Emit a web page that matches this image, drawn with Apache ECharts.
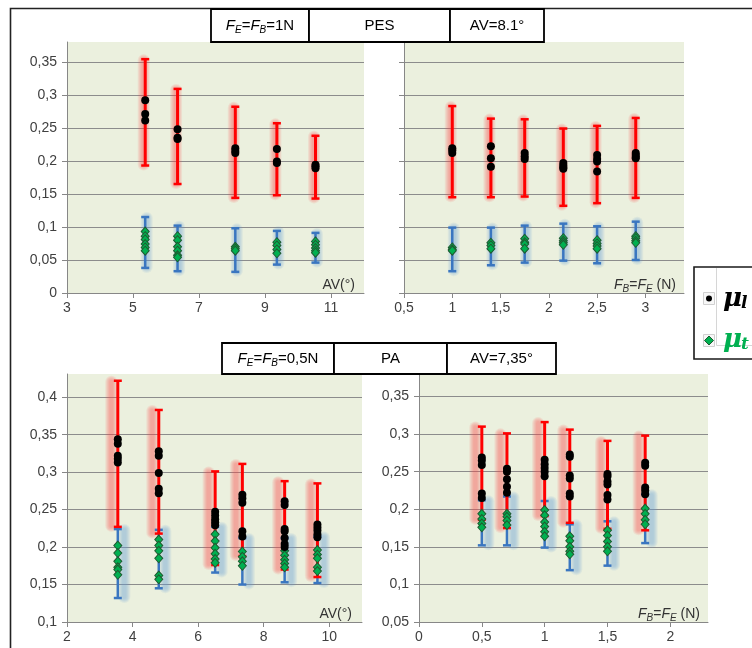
<!DOCTYPE html>
<html><head><meta charset="utf-8">
<script src="https://cdn.jsdelivr.net/npm/echarts/dist/echarts.min.js"></script>
<style>html,body{margin:0;padding:0;background:#fff}#c{width:752px;height:648px}</style>
</head><body><div id="c"></div>
<script>
// ---- Panel 1: PES, FE=FB=1N, x = AV (°)
const pesAV = [5.37, 6.35, 8.1, 9.36, 10.53];
const pesAV_muL = [[0.292,0.271,0.261],[0.248,0.235,0.233],[0.219,0.215,0.212],[0.218,0.199,0.197],[0.194,0.192,0.189]];
const pesAV_muLErr = [[0.193,0.354],[0.165,0.309],[0.144,0.282],[0.148,0.257],[0.143,0.238]];
const pesAV_muT = [[0.093,0.086,0.081,0.074,0.069,0.064],[0.086,0.080,0.070,0.064,0.057,0.054],[0.070,0.067,0.064],[0.077,0.072,0.066,0.060],[0.078,0.073,0.068,0.064,0.061]];
const pesAV_muTErr = [[0.038,0.115],[0.033,0.102],[0.032,0.098],[0.043,0.094],[0.046,0.091]];
// ---- Panel 2: PES, AV=8.1°, x = FB=FE (N)
const pesF = [1.0, 1.4, 1.75, 2.15, 2.5, 2.9];
const pesF_muL = [[0.219,0.216,0.212],[0.222,0.204,0.191],[0.212,0.207,0.203],[0.197,0.193,0.190,0.188],[0.209,0.203,0.199,0.184],[0.212,0.209,0.206,0.204]];
const pesF_muLErr = [[0.145,0.283],[0.145,0.264],[0.146,0.263],[0.132,0.249],[0.136,0.253],[0.144,0.265]];
const pesF_muT = [[0.069,0.066,0.064],[0.076,0.072,0.067],[0.082,0.077,0.074,0.067],[0.083,0.079,0.076,0.073],[0.080,0.075,0.071,0.067],[0.086,0.083,0.079,0.076]];
const pesF_muTErr = [[0.033,0.099],[0.042,0.099],[0.046,0.102],[0.049,0.105],[0.045,0.101],[0.050,0.108]];
// ---- Panel 3: PA, FE=FB=0,5N, x = AV (°)
const paAV = [3.55, 4.8, 6.52, 7.35, 8.64, 9.64];
const paAV_muL = [[0.344,0.338,0.322,0.318,0.313],[0.328,0.322,0.299,0.278,0.272],[0.247,0.242,0.237,0.233,0.229],[0.270,0.265,0.259,0.221,0.214],[0.261,0.256,0.224,0.221,0.212,0.204,0.200],[0.230,0.226,0.222,0.217,0.213]];
const paAV_muLErr = [[0.227,0.422],[0.218,0.383],[0.176,0.301],[0.188,0.311],[0.170,0.288],[0.160,0.285]];
const paAV_muT = [[0.202,0.192,0.181,0.173,0.170,0.163],[0.210,0.202,0.195,0.185,0.162,0.157],[0.217,0.208,0.199,0.191,0.184,0.179],[0.194,0.187,0.181,0.175],[0.195,0.189,0.183,0.178,0.173],[0.196,0.190,0.185,0.173,0.168]];
const paAV_muTErr = [[0.132,0.224],[0.145,0.223],[0.166,0.227],[0.150,0.212],[0.153,0.212],[0.152,0.214]];
// ---- Panel 4: PA, AV=7,35°, x = FB=FE (N)
const paF = [0.5, 0.7, 1.0, 1.2, 1.5, 1.8];
const paF_muL = [[0.269,0.265,0.259,0.221,0.215],[0.254,0.250,0.240,0.230,0.222],[0.266,0.260,0.255,0.250,0.244],[0.273,0.270,0.245,0.241,0.221,0.217],[0.247,0.244,0.237,0.233,0.219,0.213],[0.262,0.258,0.229,0.225,0.220]];
const paF_muLErr = [[0.186,0.310],[0.175,0.301],[0.191,0.316],[0.182,0.306],[0.174,0.291],[0.172,0.298]];
const paF_muT = [[0.194,0.187,0.181,0.176],[0.194,0.190,0.185,0.179],[0.199,0.192,0.183,0.177,0.170,0.164],[0.164,0.158,0.150,0.144,0.140],[0.172,0.165,0.157,0.150,0.144],[0.201,0.194,0.186,0.180]];
const paF_muTErr = [[0.152,0.212],[0.152,0.217],[0.149,0.211],[0.119,0.180],[0.125,0.184],[0.155,0.220]];

// ---- axis ticks
const xTicks1 = [3,5,7,9,11];
const xTicks2 = [0.5,1,1.5,2,2.5,3];
const xTicks3 = [2,4,6,8,10];
const xTicks4 = [0,0.5,1,1.5,2];
const xRange1 = [3,12], xRange2 = [0.5,3.4], xRange3 = [2,11], xRange4 = [0,2.3];
const yRange1 = [0,0.38], yRange3 = [0.1,0.431], yRange4 = [0.05,0.38];
const yStep = 0.05;

const panels = [
  {x:pesAV, muL:pesAV_muL, muLErr:pesAV_muLErr, muT:pesAV_muT, muTErr:pesAV_muTErr, xt:xTicks1, xr:xRange1, yr:yRange1, yLabels:true,
   grid:{left:67, top:42, width:297, height:251}, gR:-1.5, gB:1.5},
  {x:pesF, muL:pesF_muL, muLErr:pesF_muLErr, muT:pesF_muT, muTErr:pesF_muTErr, xt:xTicks2, xr:xRange2, yr:yRange1, yLabels:false,
   grid:{left:404, top:42, width:280, height:251}, gR:-1.5, gB:1.5},
  {x:paAV, muL:paAV_muL, muLErr:paAV_muLErr, muT:paAV_muT, muTErr:paAV_muTErr, xt:xTicks3, xr:xRange3, yr:yRange3, yLabels:true,
   grid:{left:67, top:374, width:295, height:248}, gR:-6.5, gB:6.5},
  {x:paF, muL:paF_muL, muLErr:paF_muLErr, muT:paF_muT, muTErr:paF_muTErr, xt:xTicks4, xr:xRange4, yr:yRange4, yLabels:true,
   grid:{left:419, top:374, width:289, height:248}, gR:-6.5, gB:6.5}
];

const fmt = v => String(+(+v).toFixed(3)).replace('.', ',');
const AX = '#878787', LBL = '#404040', FONT = 'Liberation Sans';
const RED = '#ff0000', BLUE = '#3a76c0';

function glowRender(rgb, off) {
  return function (params, api) {
    const x = api.value(0), lo = api.value(1), hi = api.value(2);
    const p1 = api.coord([x, hi]), p2 = api.coord([x, lo]);
    const widths = [12, 10, 8, 6, 4];
    return {type:'group', children: widths.map(w => ({
      type:'rect', shape:{x:p1[0]+off-w/2, y:p1[1]-w/2+1, width:w, height:p2[1]-p1[1]+w-2, r:w/2},
      style:{fill:'rgba(' + rgb + ',0.1)'}
    }))};
  };
}
function barRender(color, lw) {
  return function (params, api) {
    const x = api.value(0), lo = api.value(1), hi = api.value(2);
    const p1 = api.coord([x, hi]), p2 = api.coord([x, lo]);
    const c = 4;
    return {type:'group', children:[
      {type:'line', shape:{x1:p1[0], y1:p1[1], x2:p2[0], y2:p2[1]}, style:{stroke:color, lineWidth:lw}},
      {type:'line', shape:{x1:p1[0]-c, y1:p1[1], x2:p1[0]+c, y2:p1[1]}, style:{stroke:color, lineWidth:2.5}},
      {type:'line', shape:{x1:p2[0]-c, y1:p2[1], x2:p2[0]+c, y2:p2[1]}, style:{stroke:color, lineWidth:2.5}}
    ]};
  };
}

const grids = [], xAxes = [], yAxes = [], series = [];
panels.forEach((p, i) => {
  grids.push(Object.assign({show:true, backgroundColor:'#ebf0de', borderWidth:0, containLabel:false, outerBoundsMode:'none'}, p.grid));
  xAxes.push({type:'value', gridIndex:i, min:p.xr[0], max:p.xr[1],
    axisLine:{show:true, onZero:false, lineStyle:{color:AX, width:1}},
    axisTick:{show:true, length:5, customValues:p.xt, lineStyle:{color:AX}},
    axisLabel:{customValues:p.xt, formatter:fmt, color:LBL, fontFamily:FONT, fontSize:14, margin:8},
    splitLine:{show:false}});
  yAxes.push({type:'value', gridIndex:i, min:p.yr[0], max:p.yr[1], interval:yStep,
    axisLine:{show:true, lineStyle:{color:AX, width:1}},
    axisTick:{show:true, length:5, lineStyle:{color:AX}},
    axisLabel:{show:p.yLabels, formatter:fmt, color:LBL, fontFamily:FONT, fontSize:14, margin:10, showMaxLabel:false},
    splitLine:{show:true, showMaxLine:false, showMinLine:false, lineStyle:{color:'#8c8c8c', width:1}}});
  const redData = p.x.map((x, k) => [x, p.muLErr[k][0], p.muLErr[k][1]]);
  const blueData = p.x.map((x, k) => [x, p.muTErr[k][0], p.muTErr[k][1]]);
  const blackData = [], greenData = [];
  p.x.forEach((x, k) => {
    p.muL[k].forEach(v => blackData.push([x, v]));
    p.muT[k].forEach(v => greenData.push([x, v]));
  });
  series.push({type:'custom', xAxisIndex:i, yAxisIndex:i, z:1, silent:true, data:blueData, encode:{x:0, y:[1,2]},
    renderItem:glowRender('95,155,215', p.gB)});
  series.push({type:'custom', xAxisIndex:i, yAxisIndex:i, z:1, silent:true, data:redData, encode:{x:0, y:[1,2]},
    renderItem:glowRender('255,70,70', p.gR)});
  series.push({type:'custom', xAxisIndex:i, yAxisIndex:i, z:2, silent:true, data:blueData, encode:{x:0, y:[1,2]},
    renderItem:barRender(BLUE, 2.5)});
  series.push({type:'custom', xAxisIndex:i, yAxisIndex:i, z:3, silent:true, data:redData, encode:{x:0, y:[1,2]},
    renderItem:barRender(RED, 3)});
  series.push({type:'scatter', xAxisIndex:i, yAxisIndex:i, z:4, symbol:'diamond', symbolSize:[8,9], data:greenData,
    itemStyle:{color:'#00b050', borderColor:'#1f5a30', borderWidth:1, opacity:1}});
  series.push({type:'scatter', xAxisIndex:i, yAxisIndex:i, z:5, symbol:'circle', symbolSize:8, data:blackData,
    itemStyle:{color:'#000', opacity:1}});
});

const subRich = {
  i:{fontFamily:FONT, fontSize:15, fontStyle:'italic', lineHeight:20, verticalAlign:'middle', fill:'#000'},
  s:{fontFamily:FONT, fontSize:10, fontStyle:'italic', lineHeight:10, verticalAlign:'bottom', fill:'#000'},
  n:{fontFamily:FONT, fontSize:15, lineHeight:20, verticalAlign:'middle', fill:'#000'}
};
const nameRich = {
  i:{fontFamily:FONT, fontSize:14, fontStyle:'italic', lineHeight:18, fill:'#333'},
  s:{fontFamily:FONT, fontSize:10, fontStyle:'italic', lineHeight:9, verticalAlign:'bottom', fill:'#333'},
  n:{fontFamily:FONT, fontSize:14, lineHeight:18, fill:'#333'}
};
function box(x, y, w, h) { return {type:'rect', shape:{x:x, y:y, width:w, height:h}, style:{fill:'#fff', stroke:'#000', lineWidth:1.8}, z:10}; }
function txt(x, y, t, rich, align) {
  return {type:'text', x:x, y:y, z:11, style:{text:t, rich:rich, align:align||'center', verticalAlign:'middle', fontFamily:FONT, fontSize:15, fill:'#000'}};
}

const graphics = [
  {type:'polyline', shape:{points:[[10.5,648],[10.5,8.5],[752,8.5]]}, style:{stroke:'#222', lineWidth:1.6, fill:null}, z:9},
  box(211,9,98,33), box(309,9,141,33), box(450,9,94,33),
  txt(260,25.5,'{i|F}{s|E}{n|=}{i|F}{s|B}{n|=1N}', subRich),
  txt(379.5,25.5,'{n|PES}', subRich),
  txt(497,25.5,'{n|AV=8.1°}', subRich),
  box(222,343,112,31), box(334,343,113,31), box(447,343,109,31),
  txt(278,358.5,'{i|F}{s|E}{n|=}{i|F}{s|B}{n|=0,5N}', subRich),
  txt(390.5,358.5,'{n|PA}', subRich),
  txt(501.5,358.5,'{n|AV=7,35°}', subRich),
  txt(355,285,'{n|AV(°)}', nameRich, 'right'),
  txt(676,285,'{i|F}{s|B}{n|=}{i|F}{s|E}{n| (N)}', nameRich, 'right'),
  txt(352,614,'{n|AV(°)}', nameRich, 'right'),
  txt(700,614,'{i|F}{s|B}{n|=}{i|F}{s|E}{n| (N)}', nameRich, 'right'),
  // legend
  {type:'rect', shape:{x:694, y:267, width:80, height:92}, style:{fill:'#fff', stroke:'#1a1a1a', lineWidth:1.6}, z:10},
  {type:'polyline', shape:{points:[[716.5,268],[716.5,345.5],[752,345.5]]}, style:{stroke:'#d6d6d6', lineWidth:1, fill:null}, z:11},
  {type:'rect', shape:{x:703.5, y:292.5, width:11, height:12}, style:{fill:'#f7f7f7', stroke:'#d0d0d0', lineWidth:1}, z:11},
  {type:'circle', shape:{cx:709, cy:298.5, r:3}, style:{fill:'#000'}, z:12},
  {type:'rect', shape:{x:703.5, y:334.5, width:11, height:12}, style:{fill:'#f7f7f7', stroke:'#d0d0d0', lineWidth:1}, z:11},
  {type:'polygon', shape:{points:[[709,336],[713.5,340.5],[709,345],[704.5,340.5]]}, style:{fill:'#00b050', stroke:'#1f5a30', lineWidth:1}, z:12},
  {type:'text', x:723, y:299, z:12, style:{text:'μ', fontFamily:'DejaVu Serif', fontWeight:'bold', fontStyle:'italic', fontSize:26, fill:'#000', verticalAlign:'middle'}},
  {type:'text', x:741, y:304, z:12, style:{text:'l', fontFamily:'DejaVu Serif', fontWeight:'bold', fontStyle:'italic', fontSize:17, fill:'#000', verticalAlign:'middle'}},
  {type:'text', x:723, y:340, z:12, style:{text:'μ', fontFamily:'DejaVu Serif', fontWeight:'bold', fontStyle:'italic', fontSize:26, fill:'#00b050', verticalAlign:'middle'}},
  {type:'text', x:741, y:345, z:12, style:{text:'t', fontFamily:'DejaVu Serif', fontWeight:'bold', fontStyle:'italic', fontSize:17, fill:'#00b050', verticalAlign:'middle'}}
];

const chart = echarts.init(document.getElementById('c'), null, {renderer:'canvas'});
chart.setOption({
  animation:false,
  backgroundColor:'#fff',
  grid:grids, xAxis:xAxes, yAxis:yAxes, series:series,
  graphic:graphics
});
</script></body></html>
